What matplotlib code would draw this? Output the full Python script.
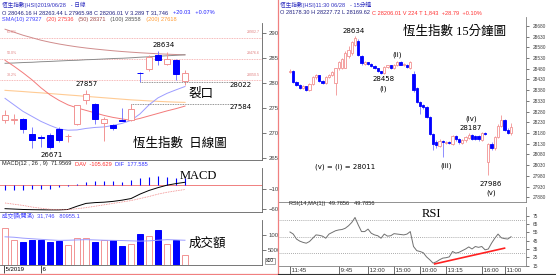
import numpy as np
import matplotlib.pyplot as plt
from matplotlib.lines import Line2D

plt.rcParams['font.family'] = ['Liberation Sans', 'Noto Sans CJK TC']
plt.rcParams['axes.linewidth'] = 0.6
SERIF = ['Liberation Serif', 'Noto Sans CJK TC']
NUM = ['DejaVu Sans']

# ---------------- daily HSI data ----------------
d_open = [27265, 27260, 27284, 26970, 26910, 26964, 27084, 26930, 27184, 27650, 27584,
          27204, 27150, 27264, 27250, 28205, 28284, 28564, 28384, 28464, 28046.16]
d_high = [27450, 27385, 27300, 27116, 26950, 26990, 27116, 26984, 27560, 27857, 27600,
          27316, 27184, 27504, 27584, 28210, 28550, 28634, 28620, 28480, 28263.44]
d_low = [27190, 27170, 26996, 26704, 26716, 26671, 26816, 26816, 27150, 27570, 27184,
         26836, 27050, 27236, 27236, 28022, 28236, 28350, 28350, 28064, 27965.98]
d_close = [27365, 27270, 27084, 26864, 26900, 26716, 26864, 26940, 27550, 27770, 27284,
           27270, 27096, 27236, 27484, 28195, 28516, 28464, 28484, 28170, 28206.01]

sma10 = [27690, 27560, 27430, 27330, 27230, 27150, 27080, 27055, 27060, 27090, 27110,
         27120, 27150, 27190, 27250, 27380, 27560, 27700, 27790, 27860, 27927]
sma20 = [28450, 28330, 28200, 28060, 27900, 27760, 27650, 27560, 27500, 27450, 27400,
         27350, 27310, 27280, 27250, 27290, 27340, 27390, 27440, 27485, 27536]
sma50 = [29070, 29010, 28950, 28900, 28850, 28810, 28775, 28745, 28718, 28695, 28675,
         28657, 28640, 28625, 28612, 28600, 28590, 28580, 28572, 28565, 28558]
sma100 = [28390, 28396, 28405, 28410, 28421, 28427, 28436, 28445, 28450, 28461, 28467,
          28476, 28485, 28490, 28500, 28511, 28520, 28531, 28540, 28549, 28560]
sma200 = [27850, 27838, 27826, 27812, 27800, 27786, 27772, 27758, 27745, 27730, 27716,
          27702, 27688, 27674, 27660, 27650, 27640, 27630, 27622, 27615, 27610]

fib_pct = ['61.8%', '50.0%', '38.2%']
fib_val = [28902.7, 28476.6, 28050.5]
gap_idx = [14, 15]
gap_val = [27584, 28022]

macd_dif = [-125, -108, -108, -100, -92, -83, -50, -25, 40, 83, 100, 100, 100, 83, 125,
            167, 208, 225, 208, 183, 177.6]
macd_line = [-580, -590, -600, -605, -608, -610, -610, -600, -520, -450, -430, -420, -400,
             -370, -330, -220, -130, -60, 0, 40, 72]
macd_dav = [-440, -470, -500, -540, -570, -595, -605, -605, -580, -555, -520, -485, -450,
            -415, -380, -330, -280, -220, -175, -140, -106]

vol = [12360, 8280, 7700, 8280, 8280, 7700, 7930, 6760, 9100, 9100, 7700, 8280, 8280, 6530,
       7110, 10380, 9680, 11780, 7110, 8280, 3380]
vol_ma = [9450, 9300, 9000, 8800, 8600, 8400, 8250, 8300, 8400, 8500, 8400, 8300, 8250,
          8200, 8100, 8000, 8100, 8300, 8500, 8400, 8300]
date_pos = [-0.1, 4]
date_lbl = ['5/2019', '6']

# ---------------- 15 minute data ----------------
m_open = [28466, 28470, 28420, 28402, 28388, 28398, 28382, 28410, 28440, 28449, 28424, 28414,
          28442, 28452, 28412, 28482, 28484, 28486, 28540, 28552, 28592, 28612, 28540, 28502,
          28510, 28504, 28492, 28482, 28470, 28462, 28488, 28496, 28484, 28498, 28512, 28498,
          28500, 28482, 28455, 28388, 28325, 28310, 28302, 28255, 28177, 28138, 28118, 28142,
          28134, 28138, 28128, 28165, 28150, 28132, 28146, 28158, 28172, 28168, 28166, 28148,
          28178, 28044, 28130, 28108, 28162, 28215, 28240, 28196, 28178.30]
m_high = [28480, 28474, 28425, 28408, 28402, 28401, 28414, 28446, 28456, 28452, 28428, 28446,
          28456, 28470, 28486, 28515, 28532, 28562, 28586, 28612, 28634, 28618, 28546, 28516,
          28514, 28508, 28496, 28486, 28472, 28494, 28500, 28499, 28502, 28518, 28515, 28508,
          28504, 28516, 28468, 28396, 28330, 28316, 28308, 28260, 28182, 28146, 28150, 28146,
          28142, 28141, 28172, 28170, 28156, 28150, 28166, 28180, 28176, 28172, 28170, 28187,
          28184, 28134, 28136, 28168, 28222, 28263, 28246, 28202, 28227.72]
m_low = [28460, 28415, 28398, 28385, 28384, 28378, 28378, 28404, 28432, 28420, 28410, 28410,
         28438, 28446, 28357, 28476, 28480, 28482, 28532, 28546, 28586, 28538, 28500, 28496,
         28498, 28488, 28478, 28466, 28458, 28458, 28482, 28480, 28480, 28492, 28496, 28494,
         28484, 28478, 28372, 28318, 28270, 28290, 28248, 28170, 28100, 28110, 28114, 28067,
         28130, 28128, 28124, 28144, 28130, 28128, 28140, 28154, 28148, 28148, 28144, 28144,
         28172, 27986, 28100, 28100, 28155, 28208, 28188, 28176, 28169.62]
m_close = [28472, 28420, 28402, 28390, 28398, 28382, 28410, 28440, 28449, 28424, 28414, 28442,
           28452, 28466, 28482, 28510, 28528, 28554, 28570, 28606, 28622, 28544, 28506, 28512,
           28502, 28492, 28482, 28470, 28462, 28490, 28496, 28484, 28498, 28512, 28498, 28504,
           28488, 28513, 28380, 28325, 28306, 28300, 28255, 28177, 28130, 28122, 28142, 28138,
           28138, 28134, 28165, 28150, 28136, 28146, 28160, 28172, 28152, 28152, 28150, 28180,
           28176, 28130, 28108, 28162, 28215, 28240, 28196, 28180, 28206.01]

rsi = [55.5, 53, 47, 44.5, 43, 42, 44, 48, 52, 51.5, 50.5, 48, 53, 55, 57, 58, 58.5, 60, 63,
       67, 73, 64, 56, 56, 59, 54, 52, 51, 48, 53, 50.5, 51, 53.5, 53, 52.5, 52, 53, 56, 38,
       33, 32, 30.5, 25.5, 22, 18, 19.5, 22, 24, 24.5, 25.5, 32, 30, 31, 33, 35, 37.5, 35, 38,
       37, 38, 34, 35, 42, 48, 53, 48.5, 47.5, 47, 49.8]
rsi_trend_x = [44.5, 66]
rsi_trend_y = [17, 36]
time_pos = [0, 15, 24, 32, 40, 48, 59, 66]
time_lbl = ['11:45', '9:45', '12:00', '15:00', '10:00', '13:15', '16:00', '11:00']

BLUE = '#0000ff'
WICK_BLUE = '#7b7bff'
PINK = '#f29393'
LAV = '#9c9cff'
GRAY = '#808080'

W, H = 556, 275
fig = plt.figure(figsize=(W / 100, H / 100), dpi=100)
renderer = fig.canvas.get_renderer()


def box(x0, y0, x1, y1):
    return [x0 / W, 1 - y1 / H, (x1 - x0) / W, (y1 - y0) / H]


def ftext(px, py, s, **kw):
    return fig.text(px / W, 1 - py / H, s, **kw)


def seq_text(px, py, parts, size=4.1):
    for s, col in parts:
        t = ftext(px, py, s, color=col, fontsize=size, va='center', ha='left')
        px = t.get_window_extent(renderer=renderer).x1


def draw_candles(ax, o, h, l, c, w, lw=0.7):
    o, h, l, c = (np.asarray(a, float) for a in (o, h, l, c))
    x = np.arange(len(o))
    up = c >= o
    ax.vlines(x[up], l[up], h[up], color=PINK, lw=lw, zorder=2)
    ax.vlines(x[~up], l[~up], h[~up], color=WICK_BLUE, lw=lw, zorder=2)
    bot = np.minimum(o, c)
    hgt = np.abs(c - o)
    ax.bar(x[up], hgt[up], w, bottom=bot[up], facecolor='white', edgecolor=PINK, lw=lw, zorder=3)
    ax.bar(x[~up], hgt[~up], w, bottom=bot[~up], facecolor=BLUE, edgecolor=BLUE, lw=lw, zorder=3)


def style_left(ax):
    ax.spines['top'].set_visible(False)
    ax.spines['left'].set_visible(False)
    ax.spines['right'].set_color('#606060')
    ax.spines['bottom'].set_color('#606060')
    ax.yaxis.tick_right()
    ax.tick_params(axis='y', direction='out', length=3, width=0.5, labelsize=4.3, pad=1.5,
                   colors='#404040')
    ax.set_xlim(-0.56, 28.56)


xd = np.arange(len(d_close))

# ---- daily price panel ----
ax1 = fig.add_axes(box(0, 23, 262, 160))
style_left(ax1)
ax1.set_ylim(26460, 29194)
ax1.set_xticks([])
ax1.set_yticks(range(26500, 29001, 500))
for v, p in zip(fib_val, fib_pct):
    ax1.axhline(v, color='#f4a0a0', lw=0.6, ls=(0, (1, 1)))
    ax1.text(0.2, v + 70, p, fontsize=2.6, color='#e08080', va='bottom')
    ax1.text(26.9, v + 70, f'{v:.1f}', fontsize=2.6, color='#e08080', va='bottom')
ax1.plot(xd, sma50, color='#d08c8c', lw=0.7)
ax1.plot(xd, sma100, color='#8c8c8c', lw=0.7)
ax1.plot(xd, sma200, color='#ffcb94', lw=0.8)
ax1.plot(xd, sma20, color='#f37a7a', lw=0.7)
ax1.plot(xd, sma10, color=LAV, lw=0.7)
draw_candles(ax1, d_open, d_high, d_low, d_close, 0.66)
for i, v in zip(gap_idx, gap_val):
    ax1.hlines(v, i, 25, color='#707070', lw=0.6, ls=(0, (1, 1)))
    ax1.text(25, v - 15, str(v), fontsize=5, family=NUM, va='top', ha='left')
ax1.annotate('28634', (17.6, 28634), xytext=(0, 2.5), textcoords='offset points',
             ha='center', va='bottom', fontsize=5, family=NUM)
ax1.annotate('27857', (9.1, 27857), xytext=(0, 2.5), textcoords='offset points',
             ha='center', va='bottom', fontsize=5, family=NUM)
ax1.annotate('26671', (5.2, 26671), xytext=(0, -1.5), textcoords='offset points',
             ha='center', va='top', fontsize=5, family=NUM)
ax1.text(21.8, 27790, '裂口', fontsize=9, family=SERIF, ha='center', va='center')
ax1.text(19.4, 26790, '恆生指數  日線圖', fontsize=9, family=SERIF, ha='center', va='center')

# ---- MACD panel ----
ax2 = fig.add_axes(box(0, 168, 262, 211.5))
style_left(ax2)
ax2.set_ylim(-650, 425)
ax2.set_xticks([])
ax2.set_yticks([-100, -600])
ax2.axhline(0, color='#f08080', lw=0.7)
ax2.vlines(xd, 0, macd_dif, color=BLUE, lw=0.8)
ax2.plot(xd, macd_line, color='black', lw=0.7)
ax2.plot(xd, macd_dav, color='#f08080', lw=0.6, ls=(0, (1, 1)))
ax2.text(21.5, 225, 'MACD', fontsize=9, family=SERIF, ha='center', va='center')

# ---- volume panel ----
ax3 = fig.add_axes(box(0, 219.5, 262, 265))
style_left(ax3)
ax3.set_ylim(0, 15250)
ax3.set_yticks([10000, 5000])
d_up = np.asarray(d_close) >= np.asarray(d_open)
vol_a = np.asarray(vol, float)
ax3.bar(xd[d_up], vol_a[d_up], 0.7, facecolor='white', edgecolor=PINK, lw=0.7)
ax3.bar(xd[~d_up], vol_a[~d_up], 0.7, facecolor=BLUE, edgecolor=BLUE, lw=0.7)
ax3.plot(xd, vol_ma, color=LAV, lw=0.7)
ax3.text(22.5, 7000, '成交額', fontsize=9, family=SERIF, ha='center', va='center')
ax3.set_xticks(date_pos)
ax3.set_xticklabels(date_lbl)
ax3.tick_params(axis='x', direction='out', length=6, width=0.5, labelsize=4.3, pad=-4.6)
for t in ax3.get_xticklabels():
    t.set_ha('left')
    t.set_text(' ' + t.get_text())
ax3.set_xticklabels([' ' + s for s in date_lbl])
for t in ax3.get_xticklabels():
    t.set_ha('left')

# ---- cover for right half (clips left tick labels) ----
cover = fig.add_axes(box(277.5, 0, 556, 275))
cover.set_xticks([])
cover.set_yticks([])
for s in cover.spines.values():
    s.set_visible(False)

xm = np.arange(len(m_close))

# ---- 15 minute price panel ----
ax4 = fig.add_axes(box(278, 17, 526, 201.7))
ax4.set_xlim(-3.69, 72.6)
ax4.set_ylim(27859, 28722)
for s in ['top', 'left']:
    ax4.spines[s].set_visible(False)
for s in ['right', 'bottom']:
    ax4.spines[s].set_color(GRAY)
ax4.set_xticks([])
ax4.yaxis.tick_right()
ax4.set_yticks(range(27880, 28681, 50))
ax4.tick_params(axis='y', direction='out', length=2.5, width=0.5, labelsize=3.4, pad=2.5,
                colors='#404040')
draw_candles(ax4, m_open, m_high, m_low, m_close, 0.7, lw=0.6)
lab = dict(fontsize=5, family=NUM, ha='center', va='center')
ax4.text(19.7, 28655, '28634', **lab)
ax4.text(33.1, 28544, '(ii)', **lab)
ax4.text(28.7, 28430, '28458', **lab)
ax4.text(28.7, 28385, '(i)', **lab)
ax4.text(47.9, 28028, '(iii)', **lab)
ax4.text(55.6, 28247, '(iv)', **lab)
ax4.text(55.6, 28205, '28187', **lab)
ax4.text(61.8, 27943, '27986', **lab)
ax4.text(61.8, 27903, '(v)', **lab)
ax4.text(17.1, 28020, '(v) = (i) = 28011', **lab)
ftext(455, 31.7, '恆生指數 15分鐘圖', fontsize=9, family=SERIF, ha='center', va='center')

# ---- RSI panel ----
ax5 = fig.add_axes(box(278, 206.7, 526, 266))
ax5.set_xlim(-3.69, 72.6)
ax5.set_ylim(14.5, 86)
for s in ['top', 'left']:
    ax5.spines[s].set_visible(False)
for s in ['right', 'bottom']:
    ax5.spines[s].set_color(GRAY)
for v in [70, 50, 30]:
    ax5.axhline(v, color='#909090', lw=0.6, ls=(0, (1, 1.5)))
ax5.plot(xm, rsi, color='#707070', lw=0.7)
ax5.plot(rsi_trend_x, rsi_trend_y, color='#ff2020', lw=1.2)
ax5.yaxis.tick_right()
ax5.set_yticks(range(15, 76, 10))
ax5.tick_params(axis='y', direction='out', length=2.5, width=0.5, labelsize=3.4, pad=2.5,
                colors='#404040')
ax5.set_xticks(time_pos)
ax5.set_xticklabels([' ' + s for s in time_lbl])
ax5.tick_params(axis='x', direction='out', length=6, width=0.5, labelsize=4.3, pad=-4.6,
                colors='#303030')
for t in ax5.get_xticklabels():
    t.set_ha('left')
ax5.text(0.62, 0.88, 'RSI', transform=ax5.transAxes, fontsize=9, family=SERIF,
         ha='center', va='center')

# ---- headers ----
seq_text(2, 5, [('恆生指數(HSI)2019/06/28   - 日線', '#3030c0')])
seq_text(2, 12.5, [('O 28046.16 H 28263.44 L 27965.98 C 28206.01 V 3.289 T 31,746', '#202080'),
                   ('   +20.03   +0.07%', '#2020ff')])
seq_text(2, 19.5, [('SMA(10) 27927 ', '#4040ff'), ('  (20) 27536 ', '#ff4040'),
                   ('  (50) 28371 ', '#a04848'), ('  (100) 28558 ', '#505050'),
                   ('  (200) 27618', '#ff9a30')])
seq_text(2, 164, [('MACD(12 , 26 , 9)  71.9569  ', '#202020'), ('DAV  -105.629  ', '#ff3030'),
                  ('DIF  177.585', '#3030ff')])
seq_text(2, 215.5, [('成交額(開滿)  31,746   80955.1', '#4040ff')])
seq_text(280, 5, [('恆生指數(HSI)11:30 06/28   - 15分鐘', '#3030c0')])
seq_text(280, 12.5, [('O 28178.30 H 28227.72 L 28169.62 ', '#202080'),
                     ('C 28206.01 V 224 T 1,843  +28.79  +0.10%', '#ff3030')])
seq_text(289, 203.3, [('RSI(14,MA(1))  49.7856   49.7856', '#202020')])
ftext(266, 261, 'x10', fontsize=3.5, ha='left', va='center',
      bbox=dict(boxstyle='square,pad=0.2', fc='white', ec='#808080', lw=0.5))

# panel borders
fig.add_artist(Line2D([277.5 / W] * 2, [1 - 274 / H, 1], color='#f08080', lw=0.9))
fig.add_artist(Line2D([0, 277.5 / W], [1 - 274 / H] * 2, color='#f08080', lw=0.9))
fig.add_artist(Line2D([278 / W, 1], [1 - 273.5 / H] * 2, color='#303030', lw=0.8))

fig.savefig('out.png', dpi=100)
